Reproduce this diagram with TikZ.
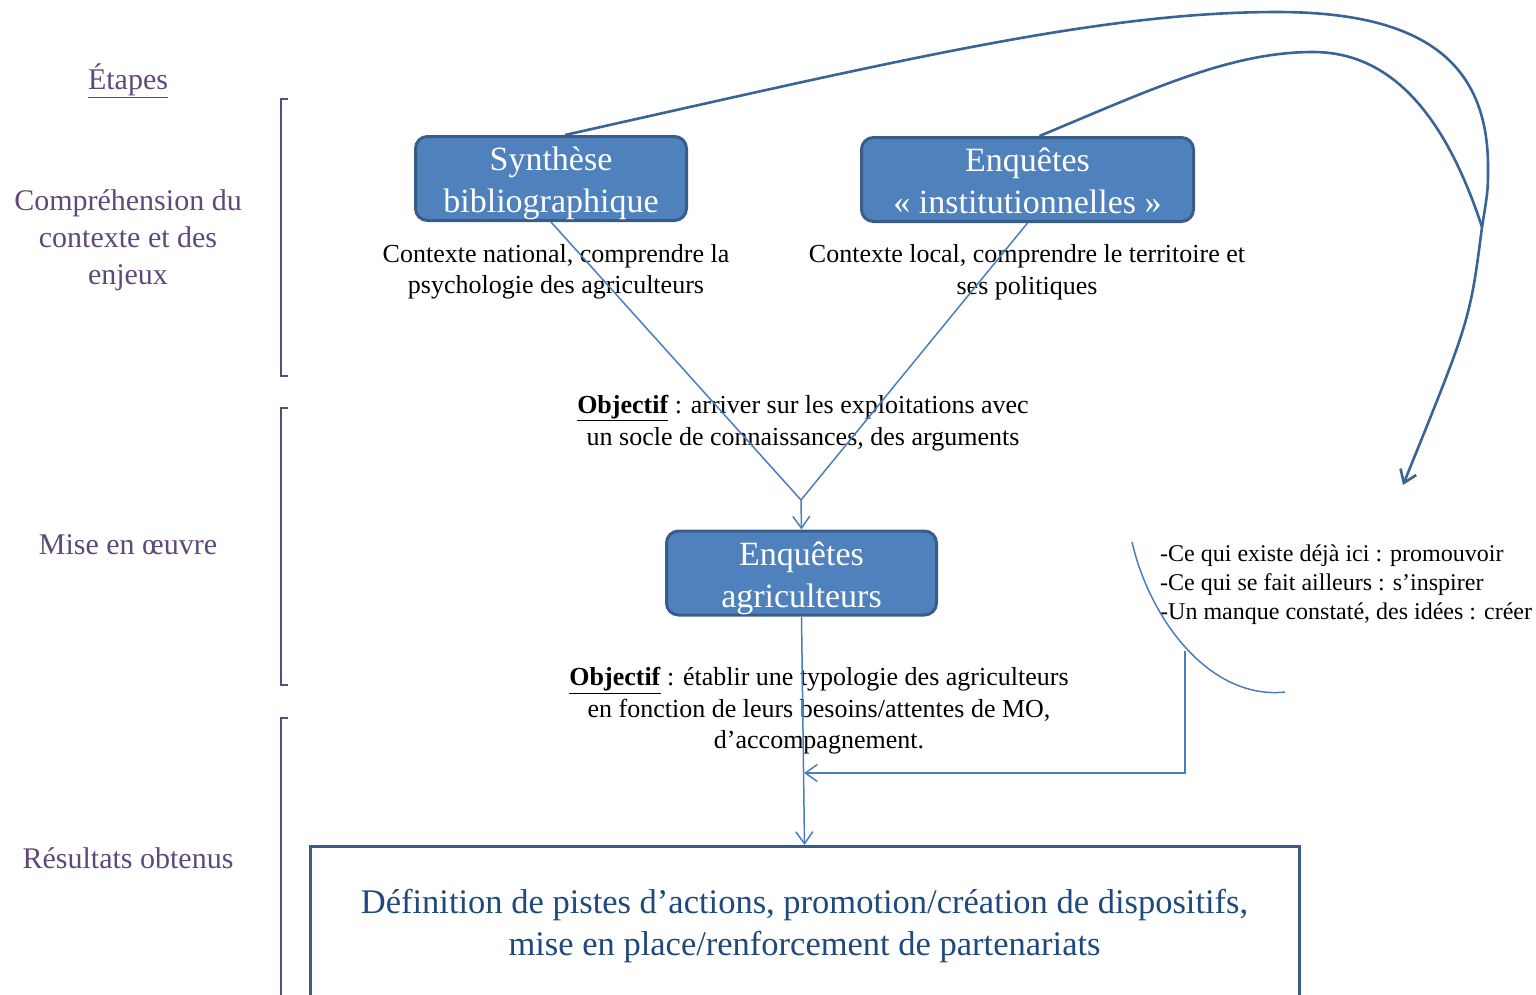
\documentclass[tikz,border=0pt]{standalone}
\usepackage{fontspec}
\setmainfont{Liberation Serif}
\usetikzlibrary{arrows.meta,calc}
\definecolor{boxfill}{HTML}{4F81BD}
\definecolor{boxdraw}{HTML}{385D8A}
\definecolor{thinblue}{HTML}{4A7EBB}
\definecolor{thickblue}{HTML}{3A6496}
\definecolor{purp}{HTML}{5F497A}
\definecolor{restext}{HTML}{1F497D}
\newcommand{\twolines}[2]{\rule{0pt}{34pt}#1\\#2\rule[-8pt]{0pt}{8pt}}
\begin{document}
\begin{tikzpicture}[x=1pt,y=-1pt,
 stepbox/.style={draw=boxdraw, line width=3pt, fill=boxfill, rounded corners=12pt, text=white, align=center, font=\fontsize{34}{42}\selectfont, inner sep=0pt},
 body/.style={align=center, font=\fontsize{26}{31.5}\selectfont, inner sep=0pt},
 lbl/.style={text=purp, align=center, font=\fontsize{30}{37}\selectfont, inner sep=0pt},
 thinline/.style={draw=thinblue, line width=1.5pt},
 thickline/.style={draw=thickblue, line width=2.6pt},
 tip/.style={-{Straight Barb[length=12pt,width=17pt]}},
 bracket/.style={draw=purp, line width=1.5pt}]
\useasboundingbox (0,0) rectangle (1536,994);

% left labels
\node[lbl] (etapes) at (128,81) {\underline{Étapes}};
\node[lbl] (comp) at (128,240) {Compréhension du\\contexte et des\\enjeux};
\node[lbl] (mise) at (128,545) {Mise en œuvre};
\node[lbl] (resl) at (128,858) {Résultats obtenus};

% brackets
\draw[bracket] (288,99) -- (281,99) -- (281,376) -- (288,376);
\draw[bracket] (288,408) -- (281,408) -- (281,685) -- (288,685);
\draw[bracket] (288,718) -- (281,718) -- (281,1000);

% coordinates
\coordinate (meet) at (801,500);
\coordinate (join) at (1482,227);
\coordinate (fbtip) at (1403,485);
\coordinate (arcA) at (1132,542);
\coordinate (arcB) at (1285,692);
\coordinate (fbstart) at (1185,651);
\coordinate (fbend) at (804,773);

% body texts
\node[body] (ctxnat) at (556,272) {Contexte national, comprendre la\\psychologie des agriculteurs};
\node[body] (ctxloc) at (1027,272) {Contexte local, comprendre le territoire et\\ses politiques};
\node[body] (obj1) at (803,423) {\underline{\textbf{Objectif}} : arriver sur les exploitations avec\\un socle de connaissances, des arguments};
\node[body] (obj2) at (819,711) {\underline{\textbf{Objectif}} : établir une typologie des agriculteurs\\en fonction de leurs besoins/attentes de MO,\\d’accompagnement.};
\node[anchor=west, align=left, font=\fontsize{24}{29}\selectfont, inner sep=0pt] (list) at (1160,585) {-Ce qui existe déjà ici : promouvoir\\-Ce qui se fait ailleurs : s’inspirer\\-Un manque constaté, des idées : créer};

% boxes
\node[stepbox, minimum width=271pt, minimum height=84pt] (syn) at (551,178.5) {\twolines{Synthèse}{bibliographique}};
\node[stepbox, minimum width=332pt, minimum height=84pt] (inst) at (1027.5,179.5) {\twolines{Enquêtes}{« institutionnelles »}};
\node[stepbox, minimum width=270pt, minimum height=83pt] (agr) at (801.5,573) {\twolines{Enquêtes}{agriculteurs}};
\node[draw=boxdraw, line width=3pt, minimum width=989pt, minimum height=159pt, anchor=north, text=restext, align=center, font=\fontsize{34.5}{42}\selectfont, inner sep=0pt] (res) at (804.5,845) {Définition de pistes d’actions, promotion/création de dispositifs,\\mise en place/renforcement de partenariats};

% connectors
\draw[thinline] (syn.south) -- (meet);
\draw[thinline] (inst.south) -- (meet);
\draw[thinline,tip] (meet) -- (agr.north);
\draw[thinline,tip] (agr.south) -- (res.north);
\draw[thinline] (arcA) .. controls (1150,620) and (1210,700) .. (arcB);
\draw[thinline,tip] (fbstart) |- (fbend);

\draw[thickline] ($(syn.north)+(14,0)$) .. controls (900,60) and (1100,12) .. (1277,12)
  .. controls (1420,12) and (1488,60) .. (1488,167) .. controls (1488,190) .. (join);
\draw[thickline] ($(inst.north)+(12,0)$) .. controls (1150,90) and (1230,52) .. (1313,52)
  .. controls (1400,52) and (1450,130) .. (join);
\draw[thickline,tip] (join) .. controls (1470,320) .. (fbtip);
\end{tikzpicture}
\end{document}
